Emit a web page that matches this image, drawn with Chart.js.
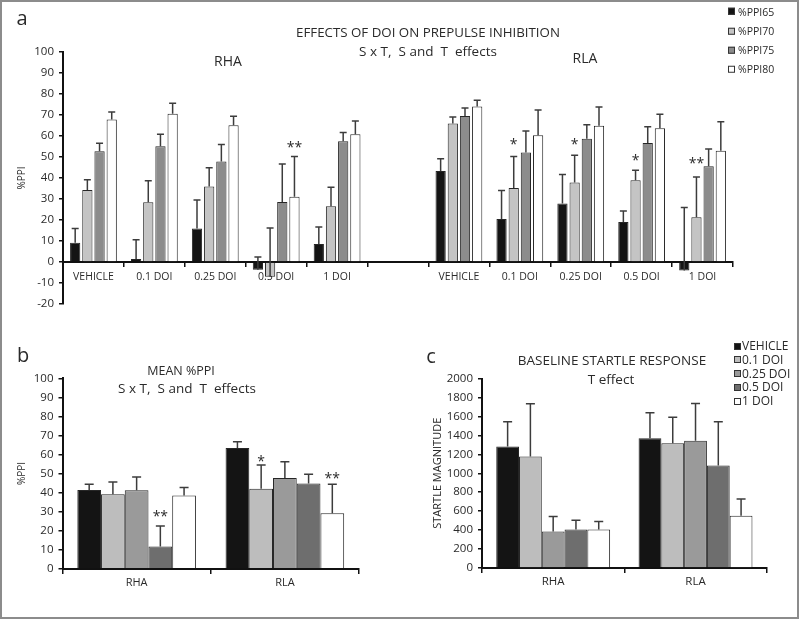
<!DOCTYPE html>
<html>
<head>
<meta charset="utf-8">
<script src="https://cdn.jsdelivr.net/npm/chart.js@4.4.1/dist/chart.umd.min.js"></script>
<style>
  html, body { margin: 0; padding: 0; background: #fff; }
  #fig { position: relative; width: 800px; height: 621px; overflow: hidden; font-family: "Open Sans", sans-serif; color: #2a2a2a; }
  #frame { position: absolute; left: 0; top: 0; width: 799px; height: 619px; border: 2px solid #8c8c8c; box-sizing: border-box; pointer-events: none; }
  canvas { position: absolute; }
  .txt { position: absolute; transform: translate(-50%, -50%); white-space: pre; line-height: 1; }
  .legend { position: absolute; }
  .legend .item { position: absolute; left: 0; display: flex; align-items: center; white-space: nowrap; transform: translateY(-50%); line-height: 1; }
  .legend .box { width: 7px; height: 7px; border: 1px solid #333; box-sizing: border-box; margin-right: 3px; }
  #legendC .box { margin-right: 1px; }
</style>
</head>
<body>
<div id="fig">
  <canvas id="chartA" width="800" height="330" style="left:0;top:0"></canvas>
  <canvas id="chartB" width="400" height="285" style="left:0;top:330px"></canvas>
  <canvas id="chartC" width="400" height="285" style="left:400px;top:330px"></canvas>

  <div class="txt" style="left:22px;top:18px;font-size:20px">a</div>
  <div class="txt" style="left:23px;top:355px;font-size:20px">b</div>
  <div class="txt" style="left:431px;top:356px;font-size:20px">c</div>

  <div class="txt" style="left:428px;top:33px;font-size:13.3px">EFFECTS OF DOI ON PREPULSE INHIBITION</div>
  <div class="txt" style="left:428px;top:52px;font-size:13.5px">S x T,  S and  T  effects</div>
  <div class="txt" style="left:228px;top:61px;font-size:14px">RHA</div>
  <div class="txt" style="left:585px;top:58px;font-size:14px">RLA</div>

  <div class="txt" style="left:181px;top:371px;font-size:12.5px">MEAN %PPI</div>
  <div class="txt" style="left:187px;top:389px;font-size:13.5px">S x T,  S and  T  effects</div>

  <div class="txt" style="left:612px;top:361px;font-size:13.5px">BASELINE STARTLE RESPONSE</div>
  <div class="txt" style="left:611px;top:380px;font-size:13.5px">T effect</div>

  <div class="legend" id="legendA" style="left:728px;top:0;font-size:10.5px"></div>
  <div class="legend" id="legendC" style="left:734px;top:0;font-size:12px"></div>
  <div id="frame"></div>
</div>

<script>
// ---- Panel a: %PPI by prepulse intensity, RHA (left) and RLA (right) ----
const doseLabelsA = ['VEHICLE', '0.1 DOI', '0.25 DOI', '0.5 DOI', '1 DOI', '', 'VEHICLE', '0.1 DOI', '0.25 DOI', '0.5 DOI', '1 DOI'];
const ppiSeries = ['%PPI65', '%PPI70', '%PPI75', '%PPI80'];
const ppi65 = [9.2, 1.4, 16.0, -3.7, 8.6, null, 43.3, 20.5, 27.9, 19.0, -4.0];
const ppi65Err = [6.7, 9.2, 13.5, 6.1, 8.1, null, 5.9, 13.6, 13.8, 5.3, 30.0];
const ppi70 = [34.3, 28.4, 35.9, -7.0, 26.5, null, 65.9, 35.2, 37.9, 38.9, 21.3];
const ppi70Err = [4.9, 10.3, 9.0, 23.2, 9.1, null, 3.1, 15.0, 12.9, 4.8, 19.2];
const ppi75 = [52.7, 55.1, 47.8, 28.6, 57.5, null, 69.5, 52.1, 58.7, 56.7, 45.6];
const ppi75Err = [3.8, 5.7, 8.1, 18.1, 4.2, null, 3.8, 10.3, 6.7, 7.7, 8.2];
const ppi80 = [67.9, 70.6, 65.1, 31.1, 60.8, null, 74.0, 60.3, 64.9, 63.7, 53.0];
const ppi80Err = [3.5, 5.0, 4.3, 19.1, 6.3, null, 3.0, 12.1, 8.9, 6.6, 13.8];
const starsA = [
  { ds: 3, idx: 3, mark: '**', at: 56.2 },
  { ds: 1, idx: 7, mark: '*', at: 57.6 },
  { ds: 1, idx: 8, mark: '*', at: 57.6 },
  { ds: 1, idx: 9, mark: '*', at: 50.1 },
  { ds: 1, idx: 10, mark: '**', at: 48.6 }
];

// ---- Panels b and c: by dose, grouped by line ----
const lines = ['RHA', 'RLA'];
const doses = ['VEHICLE', '0.1 DOI', '0.25 DOI', '0.5 DOI', '1 DOI'];

const meanVehicle = [41.3, 63.4];
const meanVehicleErr = [3.0, 3.3];
const mean01 = [39.1, 42.0];
const mean01Err = [6.4, 12.5];
const mean025 = [41.2, 47.6];
const mean025Err = [7.0, 8.6];
const mean05 = [11.6, 44.7];
const mean05Err = [10.8, 4.9];
const mean1 = [38.5, 29.1];
const mean1Err = [4.1, 15.2];
const starsB = [
  { ds: 3, idx: 0, mark: '**', at: 29.1 },
  { ds: 1, idx: 1, mark: '*', at: 58.0 },
  { ds: 4, idx: 1, mark: '**', at: 49.2 }
];

const startleVehicle = [1283, 1370];
const startleVehicleErr = [260, 268];
const startle01 = [1176, 1316];
const startle01Err = [558, 276];
const startle025 = [385, 1342];
const startle025Err = [158, 394];
const startle05 = [406, 1081];
const startle05Err = [99, 463];
const startle1 = [406, 552];
const startle1Err = [85, 176];

const colorsA = ['#141414', '#c4c4c4', '#8c8c8c', '#ffffff'];
const colorsBC = ['#141414', '#bdbdbd', '#9a9a9a', '#6e6e6e', '#ffffff'];

Chart.defaults.font.family = '"Open Sans", sans-serif';
Chart.defaults.color = '#2a2a2a';
Chart.defaults.animation = false;

// error bars (upward only) and significance stars
const errorBars = {
  id: 'errorBars',
  afterDatasetsDraw(chart, args, opts) {
    const ctx = chart.ctx;
    const y = chart.scales.y;
    ctx.save();
    ctx.strokeStyle = '#3c3c3c';
    ctx.lineWidth = 1.5;
    chart.data.datasets.forEach((ds, i) => {
      chart.getDatasetMeta(i).data.forEach((bar, j) => {
        const v = ds.data[j], e = ds.err[j];
        if (v == null || e == null) return;
        const base = y.getPixelForValue(v);
        const top = y.getPixelForValue(v + e);
        ctx.beginPath();
        ctx.moveTo(bar.x, base);
        ctx.lineTo(bar.x, top);
        ctx.moveTo(bar.x - opts.cap / 2, top);
        ctx.lineTo(bar.x + opts.cap / 2, top);
        ctx.stroke();
      });
    });
    ctx.fillStyle = '#2a2a2a';
    ctx.font = '14px "Open Sans", sans-serif';
    ctx.textAlign = 'center';
    ctx.textBaseline = 'alphabetic';
    (opts.stars || []).forEach(s => {
      const bar = chart.getDatasetMeta(s.ds).data[s.idx];
      ctx.fillText(s.mark, bar.x, y.getPixelForValue(s.at) + 8);
    });
    ctx.restore();
  }
};

function makeDatasets(labels, values, errs, colors, barPct) {
  return labels.map((label, i) => ({
    label: label,
    data: values[i],
    err: errs[i],
    backgroundColor: colors[i],
    borderColor: '#262626',
    borderWidth: 1,
    categoryPercentage: 0.8,
    barPercentage: barPct
  }));
}

function axisY(min, max, step, title, width, titleSize) {
  return {
    min: min, max: max,
    afterFit: s => { s.width = width; },
    border: { display: true, color: '#111', width: 2 },
    grid: { display: true, drawOnChartArea: false, drawTicks: true, tickLength: 4, color: '#111', lineWidth: 1.5 },
    ticks: { stepSize: step, color: '#2a2a2a', font: { size: 11.5 }, padding: 5, format: { useGrouping: false } },
    title: { display: true, text: title, color: '#2a2a2a', font: { size: titleSize }, padding: { top: 0, bottom: 0 } }
  };
}

function axisX(fontSize, pad) {
  return {
    position: { y: 0 },
    afterFit: s => { s.height = 0; },
    border: { display: true, color: '#111', width: 2 },
    grid: { display: true, drawOnChartArea: false, drawTicks: true, tickLength: 4, color: '#111', lineWidth: 1.5, offset: true },
    ticks: { autoSkip: false, maxRotation: 0, color: '#2a2a2a', font: { size: fontSize }, padding: pad }
  };
}

function makeChart(id, labels, datasets, yScale, xScale, padding, cap, stars) {
  return new Chart(document.getElementById(id), {
    type: 'bar',
    data: { labels: labels, datasets: datasets },
    options: {
      responsive: false,
      animation: false,
      layout: { padding: padding },
      plugins: {
        legend: { display: false },
        tooltip: { enabled: false },
        errorBars: { cap: cap, stars: stars }
      },
      scales: { x: xScale, y: yScale }
    },
    plugins: [errorBars]
  });
}

makeChart('chartA', doseLabelsA,
  makeDatasets(ppiSeries, [ppi65, ppi70, ppi75, ppi80], [ppi65Err, ppi70Err, ppi75Err, ppi80Err], colorsA, 0.84),
  axisY(-20, 100, 10, '%PPI', 47, 10), axisX(10.5, 5),
  { left: 16, right: 67, top: 52, bottom: 26 }, 7, starsA);

makeChart('chartB', lines,
  makeDatasets(doses, [meanVehicle, mean01, mean025, mean05, mean1],
    [meanVehicleErr, mean01Err, mean025Err, mean05Err, mean1Err], colorsBC, 1.0),
  axisY(0, 100, 10, '%PPI', 46, 10), axisX(11, 4),
  { left: 16.5, right: 41, top: 48.3, bottom: 46.3 }, 9, starsB);

makeChart('chartC', lines,
  makeDatasets(doses, [startleVehicle, startle01, startle025, startle05, startle1],
    [startleVehicleErr, startle01Err, startle025Err, startle05Err, startle1Err], colorsBC, 1.0),
  axisY(0, 2000, 200, 'STARTLE MAGNITUDE', 50.6, 11), axisX(11.5, 3),
  { left: 31.4, right: 33.3, top: 48.5, bottom: 47 }, 9, []);

// HTML legends built from the series names and colours
function buildLegend(id, labels, colors, y0, step) {
  const el = document.getElementById(id);
  labels.forEach((label, i) => {
    const item = document.createElement('div');
    item.className = 'item';
    item.style.top = (y0 + i * step) + 'px';
    const box = document.createElement('span');
    box.className = 'box';
    box.style.background = colors[i];
    item.appendChild(box);
    item.appendChild(document.createTextNode(label));
    el.appendChild(item);
  });
}
buildLegend('legendA', ppiSeries, colorsA, 11.7, 19.1);
buildLegend('legendC', doses, colorsBC, 346, 13.75);
</script>
</body>
</html>
